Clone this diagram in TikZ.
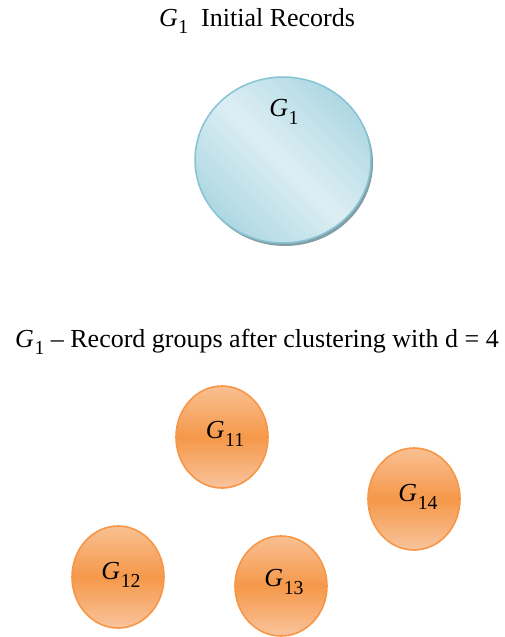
\documentclass[tikz,border=0pt]{standalone}
\usepackage{fontspec}
\setmainfont{Liberation Serif}
\usetikzlibrary{shadows}
\definecolor{bluefillA}{HTML}{AED8E3}
\definecolor{bluefillB}{HTML}{DDEEF3}
\definecolor{blueedge}{HTML}{86C3D4}
\definecolor{orA}{HTML}{F9C092}
\definecolor{orB}{HTML}{F5984A}
\definecolor{orC}{HTML}{F9C49C}
\definecolor{oredge}{HTML}{F79646}
\newcommand{\gname}[1]{\textit{G}\kern0.5pt\raisebox{-0.3em}{\fontsize{0.76em}{1em}\selectfont #1}}
\tikzset{
  bigblob/.style={draw=blueedge, line width=1.5pt,
    top color=bluefillA, bottom color=bluefillA, middle color=bluefillB, shading angle=-45,
    drop shadow={shadow xshift=2pt, shadow yshift=-3pt, fill=black!40!blueedge, opacity=0.7}},
  orblob/.style={draw=oredge, line width=1.6pt,
    top color=orA, bottom color=orC, middle color=orB},
  glabel/.style={font=\fontsize{26}{28}\selectfont, inner sep=0pt},
  titletext/.style={font=\fontsize{26}{30}\selectfont, inner sep=0pt, anchor=base}
}
\begin{document}
\begin{tikzpicture}[x=1pt,y=-1pt]
\useasboundingbox (0,0) rectangle (504,637);
\node[titletext] (t1) at (257,26) {\gname{1}\ \ Initial Records};
\shade[bigblob] (283,160) ellipse [x radius=88, y radius=83];
\node[glabel] (g1) at (284,112) {\gname{1}};
\node[titletext] (t2) at (257,347) {\gname{1} \textendash\ Record groups after clustering with d = 4};
\shade[orblob] (222,437) ellipse [x radius=46, y radius=51];
\node[glabel] (g11) at (225,434) {\gname{11}};
\shade[orblob] (118,577) ellipse [x radius=46, y radius=51];
\node[glabel] (g12) at (121,575) {\gname{12}};
\shade[orblob] (281,586) ellipse [x radius=46, y radius=50];
\node[glabel] (g13) at (284,582) {\gname{13}};
\shade[orblob] (414,499) ellipse [x radius=46, y radius=51];
\node[glabel] (g14) at (418,497) {\gname{14}};
\end{tikzpicture}
\end{document}
